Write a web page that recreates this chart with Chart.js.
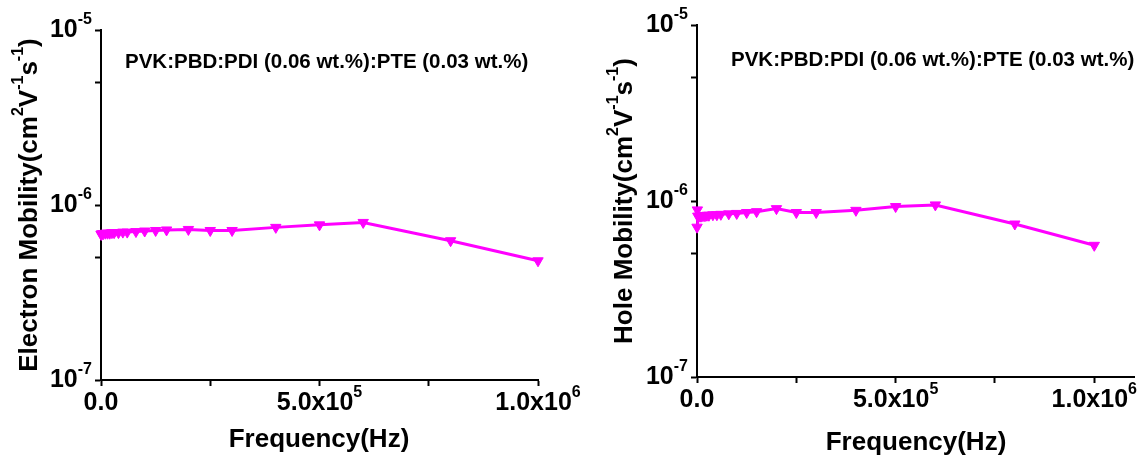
<!DOCTYPE html>
<html>
<head>
<meta charset="utf-8">
<script src="https://cdn.jsdelivr.net/npm/chart.js@4/dist/chart.umd.min.js"></script>
<style>
  body { margin: 0; background: #fff; }
  canvas { position: absolute; left: 0; top: 0; }
</style>
</head>
<body>
<canvas id="left" width="1143" height="461"></canvas>
<canvas id="right" width="1143" height="461"></canvas>
<script>
// frequency (Hz) and mobility values
const freq = [100, 1e3, 2e3, 5e3, 1e4, 1.5e4, 2e4, 2.5e4, 3e4, 4e4, 5e4, 6e4, 8e4,
  1e5, 1.25e5, 1.5e5, 2e5, 2.5e5, 3e5, 4e5, 5e5, 6e5, 8e5, 1e6];
const electron = [6.8e-7, 6.8e-7, 6.85e-7, 6.85e-7, 6.9e-7, 6.9e-7, 6.9e-7, 6.95e-7, 6.95e-7,
  6.95e-7, 7.0e-7, 7.0e-7, 7.05e-7, 7.1e-7, 7.15e-7, 7.2e-7, 7.25e-7, 7.15e-7, 7.15e-7,
  7.45e-7, 7.7e-7, 7.95e-7, 6.25e-7, 4.8e-7];
const hole = [7.1e-7, 8.9e-7, 8.2e-7, 8.2e-7, 8.2e-7, 8.25e-7, 8.25e-7, 8.3e-7, 8.3e-7,
  8.35e-7, 8.35e-7, 8.4e-7, 8.45e-7, 8.5e-7, 8.6e-7, 8.7e-7, 9.05e-7, 8.6e-7, 8.6e-7,
  8.85e-7, 9.3e-7, 9.5e-7, 7.4e-7, 5.6e-7];

const yTicks = [1e-7, 5e-7, 1e-6, 5e-6, 1e-5];
const yMajor = [1e-7, 1e-6, 1e-5];
const yExp = ['-7', '-6', '-5'];
const xTicks = [0, 2.5e5, 5e5, 7.5e5, 1e6];
const xMajor = [0, 5e5, 1e6];
const xBase = ['0.0', '5.0x10', '1.0x10'];
const xExp = ['', '5', '6'];
const sample = 'PVK:PBD:PDI (0.06 wt.%):PTE (0.03 wt.%)';

const FONT = '"Liberation Sans", Arial, sans-serif';
const W = 1143, H = 461;

// draw text made of [text, isSuperscript] parts
function partsWidth(ctx, parts, size) {
  let w = 0;
  for (const [t, sup] of parts) {
    ctx.font = 'bold ' + (sup ? Math.round(size * 0.62) : size) + 'px ' + FONT;
    w += ctx.measureText(t).width;
  }
  return w;
}
function drawParts(ctx, parts, x, y, size, align) {
  const w = partsWidth(ctx, parts, size);
  let cx = align === 'right' ? x - w : align === 'center' ? x - w / 2 : x;
  ctx.textBaseline = 'middle';
  ctx.textAlign = 'left';
  for (const [t, sup] of parts) {
    ctx.font = 'bold ' + (sup ? Math.round(size * 0.62) : size) + 'px ' + FONT;
    ctx.fillText(t, cx, sup ? y - size * 0.42 : y);
    cx += ctx.measureText(t).width;
  }
}

function makeChart(id, values, yName, box) {
  const labelsPlugin = {
    id: 'labels',
    afterDraw(chart) {
      const ctx = chart.ctx;
      const xs = chart.scales.x, ys = chart.scales.y;
      const area = chart.chartArea;
      ctx.save();
      ctx.fillStyle = '#000';
      yMajor.forEach((v, i) => {
        drawParts(ctx, [['10', 0], [yExp[i], 1]], area.left - 9, ys.getPixelForValue(v), 25, 'right');
      });
      xMajor.forEach((v, i) => {
        drawParts(ctx, [[xBase[i], 0], [xExp[i], 1]], xs.getPixelForValue(v), area.bottom + 23, 25, 'center');
      });
      drawParts(ctx, [['Frequency(Hz)', 0]], box.xTitleX, box.xTitleY, 26, 'center');
      ctx.save();
      ctx.translate(box.yTitleX, (area.top + area.bottom) / 2);
      ctx.rotate(-Math.PI / 2);
      drawParts(ctx, [[yName + '(cm', 0], ['2', 1], ['V', 0], ['-1', 1], ['s', 0], ['-1', 1], [')', 0]], 0, 0, 26, 'center');
      ctx.restore();
      drawParts(ctx, [[sample, 0]], box.noteX, box.noteY, 20.5, 'left');
      ctx.restore();
    }
  };

  return new Chart(document.getElementById(id), {
    type: 'line',
    data: {
      datasets: [{
        data: freq.map((f, i) => ({ x: f, y: values[i] })),
        borderColor: '#ff00ff',
        backgroundColor: '#ff00ff',
        borderWidth: 3,
        pointStyle: 'triangle',
        rotation: 180,
        pointRadius: 6,
        pointBorderWidth: 1,
        tension: 0,
        clip: false
      }]
    },
    options: {
      responsive: false,
      animation: false,
      layout: { autoPadding: false, padding: { left: 0, top: box.top, right: W - box.right, bottom: 0 } },
      plugins: { legend: { display: false }, tooltip: { enabled: false } },
      scales: {
        x: {
          type: 'linear', min: 0, max: box.xMax,
          afterBuildTicks: s => { s.ticks = xTicks.map(v => ({ value: v })); },
          afterFit: s => { s.height = H - box.bottom; },
          ticks: { display: false },
          grid: { drawOnChartArea: false, tickLength: 6, tickWidth: 2, tickColor: '#000' },
          border: { color: '#000', width: 2 }
        },
        y: {
          type: 'logarithmic', min: 1e-7, max: 1e-5,
          afterBuildTicks: s => { s.ticks = yTicks.map(v => ({ value: v })); },
          afterFit: s => { s.width = box.left; },
          ticks: { display: false },
          grid: { drawOnChartArea: false, tickLength: 6, tickWidth: 2, tickColor: '#000' },
          border: { color: '#000', width: 2 }
        }
      }
    },
    plugins: [labelsPlugin]
  });
}

makeChart('left', electron, 'Electron Mobility', {
  left: 101, right: 538, top: 30, bottom: 380, xMax: 1e6,
  xTitleX: 319, xTitleY: 440, yTitleX: 30, noteX: 125, noteY: 62
});
makeChart('right', hole, 'Hole Mobility', {
  left: 697, right: 1134, top: 25, bottom: 377, xMax: 1.1e6,
  xTitleX: 916, xTitleY: 443, yTitleX: 625, noteX: 731, noteY: 60
});
</script>
</body>
</html>
